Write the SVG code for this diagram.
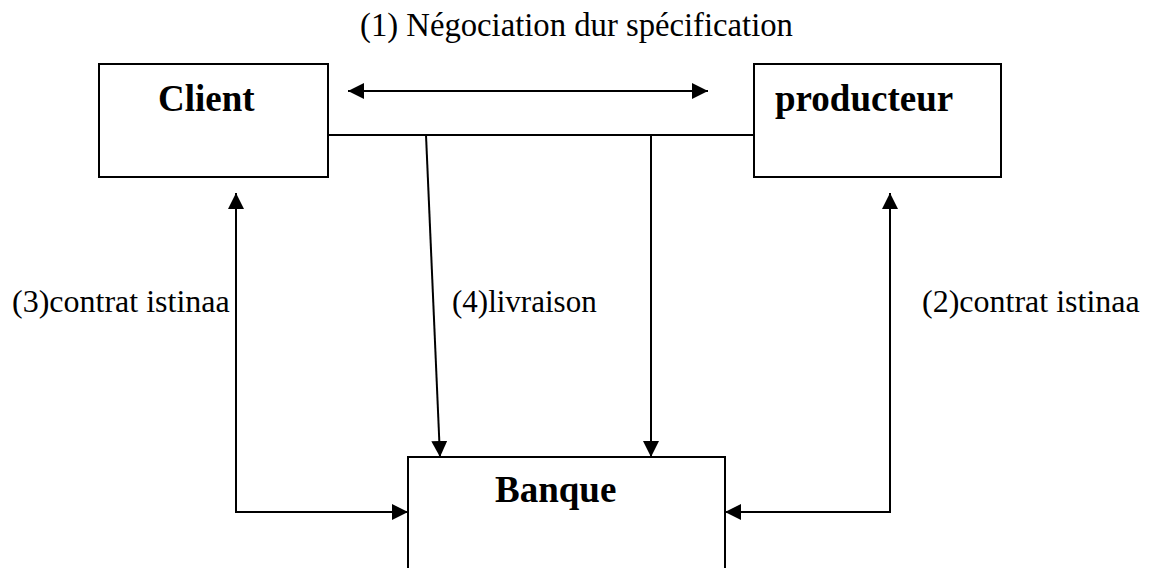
<svg xmlns="http://www.w3.org/2000/svg" width="1151" height="568" viewBox="0 0 1151 568">
<style>
.box{fill:#fff;stroke:#000;stroke-width:2}
.ln{fill:none;stroke:#000;stroke-width:2}
.b{font-family:"Liberation Serif","Times New Roman",serif;font-weight:bold;font-size:37px;fill:#000}
.r{font-family:"Liberation Serif","Times New Roman",serif;font-size:32px;fill:#000}
</style>
<defs>
<marker id="ah" markerUnits="userSpaceOnUse" markerWidth="16" markerHeight="16" refX="15" refY="7.5" orient="auto-start-reverse" viewBox="0 0 15 15">
<path d="M0,0 L15,7.5 L0,15 z" fill="#000"/>
</marker>
</defs>
<rect width="1151" height="568" fill="#fff"/>
<g id="connectors">
<line class="ln" x1="328" y1="135" x2="754" y2="135"/>
<line class="ln" x1="348" y1="91" x2="708" y2="91" marker-start="url(#ah)" marker-end="url(#ah)"/>
<line class="ln" x1="426" y1="135" x2="440" y2="457" marker-end="url(#ah)"/>
<line class="ln" x1="651" y1="135" x2="651" y2="457" marker-end="url(#ah)"/>
<polyline class="ln" points="236,193 236,512 408,512" marker-start="url(#ah)" marker-end="url(#ah)"/>
<polyline class="ln" points="890,193 890,512 725,512" marker-start="url(#ah)" marker-end="url(#ah)"/>
<text class="r" x="12" y="312">(3)contrat istinaa</text>
<text class="r" x="452" y="312" style="font-size:31px">(4)livraison</text>
<text class="r" x="922" y="312">(2)contrat istinaa</text>
<text class="r" x="360" y="36" style="font-size:32.7px">(1) Négociation dur spécification</text>
</g>
<g id="client">
<rect class="box" x="99" y="64" width="229" height="113"/>
<text class="b" x="158" y="111">Client</text>
</g>
<g id="producteur">
<rect class="box" x="754" y="64" width="247" height="113"/>
<text class="b" x="775" y="111">producteur</text>
</g>
<g id="banque">
<rect class="box" x="408" y="457" width="317" height="150"/>
<text class="b" x="495" y="502">Banque</text>
</g>
</svg>
